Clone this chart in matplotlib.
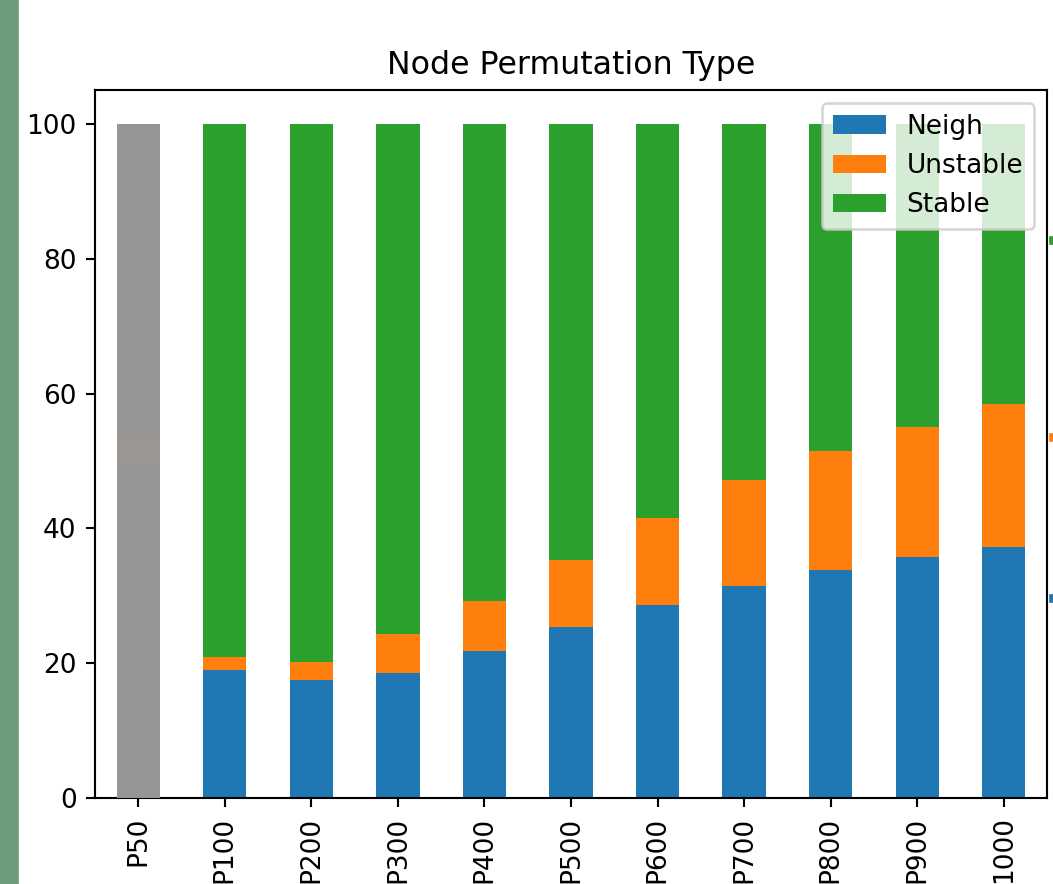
import matplotlib.pyplot as plt
from matplotlib.patches import Rectangle

# Data (percent of nodes)
labels = ["P50", "P100", "P200", "P300", "P400", "P500", "P600", "P700", "P800", "P900", "1000"]
neigh = [49.3, 19.0, 17.5, 18.5, 21.8, 25.3, 28.6, 31.4, 33.8, 35.7, 37.2]
unstable = [4.8, 1.9, 2.6, 5.8, 7.4, 10.0, 13.0, 15.7, 17.6, 19.4, 21.3]
stable = [100 - n - u for n, u in zip(neigh, unstable)]

DPI = 190
fig = plt.figure(figsize=(1053 / DPI, 884 / DPI), dpi=DPI)
ax = fig.add_axes([0.0902, 0.0973, 0.9041, 0.8007])

x = list(range(len(labels)))
w = 0.5
bottom2 = [n + u for n, u in zip(neigh, unstable)]
ax.bar(x, neigh, w, color="#1f77b4", label="Neigh")
ax.bar(x, unstable, w, bottom=neigh, color="#ff7f0e", label="Unstable")
ax.bar(x, stable, w, bottom=bottom2, color="#2ca02c", label="Stable")

# P50 is greyed out in the reference
ax.bar([x[0]], [100], w, color="#979798", alpha=0.98, zorder=3)

ax.set_xlim(-0.5, len(labels) - 0.5)
ax.set_ylim(0, 105)
ax.set_xticks(x)
ax.set_xticklabels(labels, rotation=90)
ax.set_title("Node Permutation Type")
ax.legend(loc="upper right")

# screenshot edges: green strip on the left, bits of a neighbour panel on the right
fig.patches.append(Rectangle((0, 0), 17 / 1053, 1, transform=fig.transFigure,
                             color="#6c9b7a", zorder=0))
for yy, c in [(240, "#2ca02c"), (437, "#ff7f0e"), (598, "#1f77b4")]:
    fig.patches.append(Rectangle((1050 / 1053, 1 - (yy + 3) / 884), 3 / 1053, 6 / 884,
                                 transform=fig.transFigure, color=c))

fig.savefig("out.png", dpi=DPI)
